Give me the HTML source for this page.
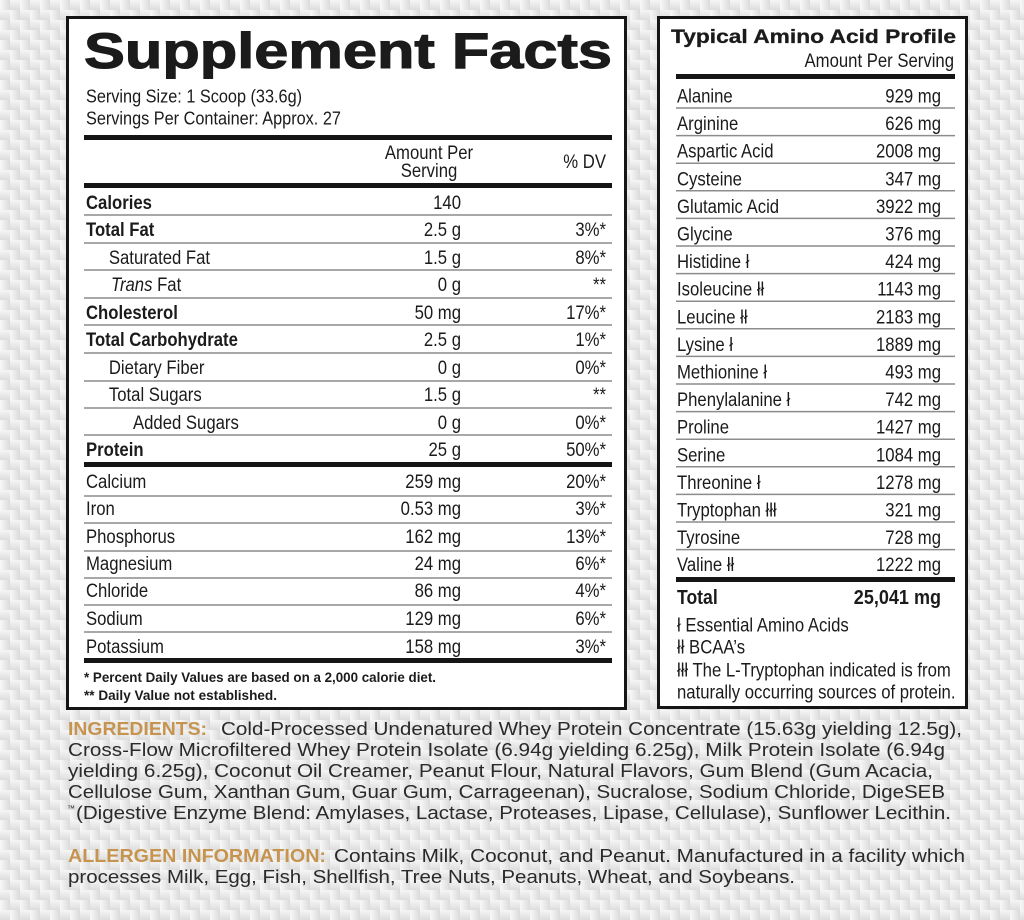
<!DOCTYPE html>
<html>
<head>
<meta charset="utf-8">
<style>
html,body{margin:0;padding:0;background:#e8e8e8;}
svg{display:block;}
text{font-family:"Liberation Sans",Arial,sans-serif;fill:#1b1b1b;}
</style>
</head>
<body>
<svg width="1024" height="920" viewBox="0 0 1024 920" xmlns="http://www.w3.org/2000/svg">
<defs>
  <linearGradient id="gh" x1="0" y1="0" x2="1" y2="0">
    <stop offset="0" stop-color="#f8f8f8"/><stop offset="1" stop-color="#dbdbdb"/>
  </linearGradient>
  <linearGradient id="gv" x1="0" y1="0" x2="0" y2="1">
    <stop offset="0" stop-color="#f5f5f5"/><stop offset="1" stop-color="#dddddd"/>
  </linearGradient>
  <pattern id="bg" width="20" height="20" patternUnits="userSpaceOnUse">
    <rect width="20" height="20" fill="#e8e8e8"/>
    <rect x="0" y="0" width="10" height="10" fill="url(#gh)"/>
    <rect x="10" y="10" width="10" height="10" fill="url(#gh)"/>
    <rect x="10" y="0" width="10" height="10" fill="url(#gv)"/>
    <rect x="0" y="10" width="10" height="10" fill="url(#gv)"/>
  </pattern>
</defs>
<rect x="0" y="0" width="1024" height="920" fill="url(#bg)"/>

<!-- LEFT BOX -->
<rect x="67.5" y="17.5" width="558" height="691" fill="#ffffff" stroke="#151515" stroke-width="3"/>
<text x="84" y="68" font-size="50" font-weight="bold" textLength="528" lengthAdjust="spacingAndGlyphs" stroke="#1b1b1b" stroke-width="1.1">Supplement Facts</text>

<g transform="translate(86,0) scale(0.88,1)" font-size="18.5">
  <text x="0" y="102.5">Serving Size: 1 Scoop (33.6g)</text>
  <text x="0" y="124.5">Servings Per Container: Approx. 27</text>
</g>

<rect x="84" y="135" width="528" height="5" fill="#151515"/>
<g transform="translate(429,0) scale(0.88,1)" font-size="19" text-anchor="middle">
  <text x="0" y="159">Amount Per</text>
  <text x="0" y="177">Serving</text>
</g>
<g transform="translate(606,0) scale(0.88,1)" font-size="19" text-anchor="end">
  <text x="0" y="168">% DV</text>
</g>
<rect x="84" y="183" width="528" height="5" fill="#151515"/>

<g stroke="#8c8c8c" stroke-width="1.5">
  <line x1="84" y1="215" x2="612" y2="215"/>
  <line x1="84" y1="243" x2="612" y2="243"/>
  <line x1="84" y1="270" x2="612" y2="270"/>
  <line x1="84" y1="298" x2="612" y2="298"/>
  <line x1="84" y1="325" x2="612" y2="325"/>
  <line x1="84" y1="353" x2="612" y2="353"/>
  <line x1="84" y1="381" x2="612" y2="381"/>
  <line x1="84" y1="408" x2="612" y2="408"/>
  <line x1="84" y1="435" x2="612" y2="435"/>
  <line x1="84" y1="496" x2="612" y2="496"/>
  <line x1="84" y1="523" x2="612" y2="523"/>
  <line x1="84" y1="551" x2="612" y2="551"/>
  <line x1="84" y1="578" x2="612" y2="578"/>
  <line x1="84" y1="605" x2="612" y2="605"/>
  <line x1="84" y1="632" x2="612" y2="632"/>
</g>

<g transform="translate(86,0) scale(0.88,1)" font-size="19">
  <text x="0" y="209" font-weight="bold">Calories</text>
  <text x="0" y="236" font-weight="bold">Total Fat</text>
  <text x="26" y="264">Saturated Fat</text>
  <text x="28.4" y="291"><tspan font-style="italic">Trans</tspan> Fat</text>
  <text x="0" y="319" font-weight="bold">Cholesterol</text>
  <text x="0" y="346" font-weight="bold">Total Carbohydrate</text>
  <text x="26" y="374">Dietary Fiber</text>
  <text x="26" y="401">Total Sugars</text>
  <text x="53.4" y="429">Added Sugars</text>
  <text x="0" y="456" font-weight="bold">Protein</text>
  <text x="0" y="488">Calcium</text>
  <text x="0" y="515">Iron</text>
  <text x="0" y="543">Phosphorus</text>
  <text x="0" y="570">Magnesium</text>
  <text x="0" y="597">Chloride</text>
  <text x="0" y="625">Sodium</text>
  <text x="0" y="653">Potassium</text>
</g>

<g transform="translate(461,0) scale(0.88,1)" font-size="19" text-anchor="end">
  <text x="0" y="209">140</text>
  <text x="0" y="236">2.5 g</text>
  <text x="0" y="264">1.5 g</text>
  <text x="0" y="291">0 g</text>
  <text x="0" y="319">50 mg</text>
  <text x="0" y="346">2.5 g</text>
  <text x="0" y="374">0 g</text>
  <text x="0" y="401">1.5 g</text>
  <text x="0" y="429">0 g</text>
  <text x="0" y="456">25 g</text>
  <text x="0" y="488">259 mg</text>
  <text x="0" y="515">0.53 mg</text>
  <text x="0" y="543">162 mg</text>
  <text x="0" y="570">24 mg</text>
  <text x="0" y="597">86 mg</text>
  <text x="0" y="625">129 mg</text>
  <text x="0" y="653">158 mg</text>
</g>

<g transform="translate(606,0) scale(0.88,1)" font-size="19" text-anchor="end">
  <text x="0" y="236">3%*</text>
  <text x="0" y="264">8%*</text>
  <text x="0" y="291">**</text>
  <text x="0" y="319">17%*</text>
  <text x="0" y="346">1%*</text>
  <text x="0" y="374">0%*</text>
  <text x="0" y="401">**</text>
  <text x="0" y="429">0%*</text>
  <text x="0" y="456">50%*</text>
  <text x="0" y="488">20%*</text>
  <text x="0" y="515">3%*</text>
  <text x="0" y="543">13%*</text>
  <text x="0" y="570">6%*</text>
  <text x="0" y="597">4%*</text>
  <text x="0" y="625">6%*</text>
  <text x="0" y="653">3%*</text>
</g>

<rect x="84" y="462" width="528" height="5" fill="#151515"/>
<rect x="84" y="658" width="528" height="5" fill="#151515"/>

<text x="84" y="682" font-size="14" font-weight="bold" textLength="352" lengthAdjust="spacingAndGlyphs">* Percent Daily Values are based on a 2,000 calorie diet.</text>
<text x="84" y="700" font-size="14" font-weight="bold" textLength="193" lengthAdjust="spacingAndGlyphs">** Daily Value not established.</text>

<!-- RIGHT BOX -->
<rect x="658.5" y="17.5" width="308" height="690" fill="#ffffff" stroke="#151515" stroke-width="3"/>
<text x="671" y="43" font-size="19.5" font-weight="bold" textLength="285" lengthAdjust="spacingAndGlyphs" stroke="#1b1b1b" stroke-width="0.3">Typical Amino Acid Profile</text>
<g transform="translate(954,0) scale(0.88,1)" font-size="19" text-anchor="end">
  <text x="0" y="67">Amount Per Serving</text>
</g>
<rect x="676" y="74" width="279" height="5" fill="#151515"/>

<g stroke="#8c8c8c" stroke-width="1.5">
  <line x1="676" y1="108" x2="955" y2="108"/>
  <line x1="676" y1="135.6" x2="955" y2="135.6"/>
  <line x1="676" y1="163.2" x2="955" y2="163.2"/>
  <line x1="676" y1="190.8" x2="955" y2="190.8"/>
  <line x1="676" y1="218.4" x2="955" y2="218.4"/>
  <line x1="676" y1="246" x2="955" y2="246"/>
  <line x1="676" y1="273.6" x2="955" y2="273.6"/>
  <line x1="676" y1="301.2" x2="955" y2="301.2"/>
  <line x1="676" y1="328.8" x2="955" y2="328.8"/>
  <line x1="676" y1="356.4" x2="955" y2="356.4"/>
  <line x1="676" y1="384" x2="955" y2="384"/>
  <line x1="676" y1="411.6" x2="955" y2="411.6"/>
  <line x1="676" y1="439.2" x2="955" y2="439.2"/>
  <line x1="676" y1="466.8" x2="955" y2="466.8"/>
  <line x1="676" y1="494.4" x2="955" y2="494.4"/>
  <line x1="676" y1="522" x2="955" y2="522"/>
  <line x1="676" y1="549.6" x2="955" y2="549.6"/>
</g>

<g transform="translate(677,0) scale(0.88,1)" font-size="19">
  <text x="0" y="102.5">Alanine</text>
  <text x="0" y="130">Arginine</text>
  <text x="0" y="157.7">Aspartic Acid</text>
  <text x="0" y="185.3">Cysteine</text>
  <text x="0" y="213">Glutamic Acid</text>
  <text x="0" y="240.5">Glycine</text>
  <text x="0" y="268">Histidine ł</text>
  <text x="0" y="295.7">Isoleucine łł</text>
  <text x="0" y="323.3">Leucine łł</text>
  <text x="0" y="351">Lysine ł</text>
  <text x="0" y="378.5">Methionine ł</text>
  <text x="0" y="406">Phenylalanine ł</text>
  <text x="0" y="433.7">Proline</text>
  <text x="0" y="461.3">Serine</text>
  <text x="0" y="489">Threonine ł</text>
  <text x="0" y="516.5">Tryptophan łłł</text>
  <text x="0" y="544">Tyrosine</text>
  <text x="0" y="571">Valine łł</text>
  <text x="0" y="604" font-weight="bold" font-size="20">Total</text>
  <text x="0" y="631.5">ł Essential Amino Acids</text>
  <text x="0" y="653.5">łł BCAA’s</text>
  <text x="0" y="676.5">łłł The L-Tryptophan indicated is from</text>
  <text x="0" y="698.5">naturally occurring sources of protein.</text>
</g>

<g transform="translate(941,0) scale(0.88,1)" font-size="19" text-anchor="end">
  <text x="0" y="102.5">929 mg</text>
  <text x="0" y="130">626 mg</text>
  <text x="0" y="157.7">2008 mg</text>
  <text x="0" y="185.3">347 mg</text>
  <text x="0" y="213">3922 mg</text>
  <text x="0" y="240.5">376 mg</text>
  <text x="0" y="268">424 mg</text>
  <text x="0" y="295.7">1143 mg</text>
  <text x="0" y="323.3">2183 mg</text>
  <text x="0" y="351">1889 mg</text>
  <text x="0" y="378.5">493 mg</text>
  <text x="0" y="406">742 mg</text>
  <text x="0" y="433.7">1427 mg</text>
  <text x="0" y="461.3">1084 mg</text>
  <text x="0" y="489">1278 mg</text>
  <text x="0" y="516.5">321 mg</text>
  <text x="0" y="544">728 mg</text>
  <text x="0" y="571">1222 mg</text>
  <text x="0" y="604" font-weight="bold" font-size="20.5">25,041 mg</text>
</g>
<rect x="676" y="577" width="279" height="5" fill="#151515"/>

<!-- INGREDIENTS -->
<g font-size="18.5">
  <text x="68" y="735" font-weight="bold" style="fill:#c6944f" textLength="139" lengthAdjust="spacingAndGlyphs">INGREDIENTS:</text>
  <text x="221" y="735" style="fill:#2a2a2a" textLength="741" lengthAdjust="spacingAndGlyphs">Cold-Processed Undenatured Whey Protein Concentrate (15.63g yielding 12.5g),</text>
  <text x="68" y="756" style="fill:#2a2a2a" textLength="877" lengthAdjust="spacingAndGlyphs">Cross-Flow Microfiltered Whey Protein Isolate (6.94g yielding 6.25g), Milk Protein Isolate (6.94g</text>
  <text x="68" y="777" style="fill:#2a2a2a" textLength="865" lengthAdjust="spacingAndGlyphs">yielding 6.25g), Coconut Oil Creamer, Peanut Flour, Natural Flavors, Gum Blend (Gum Acacia,</text>
  <text x="68" y="798" style="fill:#2a2a2a" textLength="877" lengthAdjust="spacingAndGlyphs">Cellulose Gum, Xanthan Gum, Guar Gum, Carrageenan), Sucralose, Sodium Chloride, DigeSEB</text>
  <text x="67" y="811" font-size="8" style="fill:#2a2a2a">™</text>
  <text x="76" y="819" style="fill:#2a2a2a" textLength="875" lengthAdjust="spacingAndGlyphs">(Digestive Enzyme Blend: Amylases, Lactase, Proteases, Lipase, Cellulase), Sunflower Lecithin.</text>
  <text x="68" y="862" font-weight="bold" style="fill:#c6944f" textLength="258" lengthAdjust="spacingAndGlyphs">ALLERGEN INFORMATION:</text>
  <text x="334" y="862" style="fill:#2a2a2a" textLength="631" lengthAdjust="spacingAndGlyphs">Contains Milk, Coconut, and Peanut. Manufactured in a facility which</text>
  <text x="68" y="883" style="fill:#2a2a2a" textLength="727" lengthAdjust="spacingAndGlyphs">processes Milk, Egg, Fish, Shellfish, Tree Nuts, Peanuts, Wheat, and Soybeans.</text>
</g>
</svg>
</body>
</html>
